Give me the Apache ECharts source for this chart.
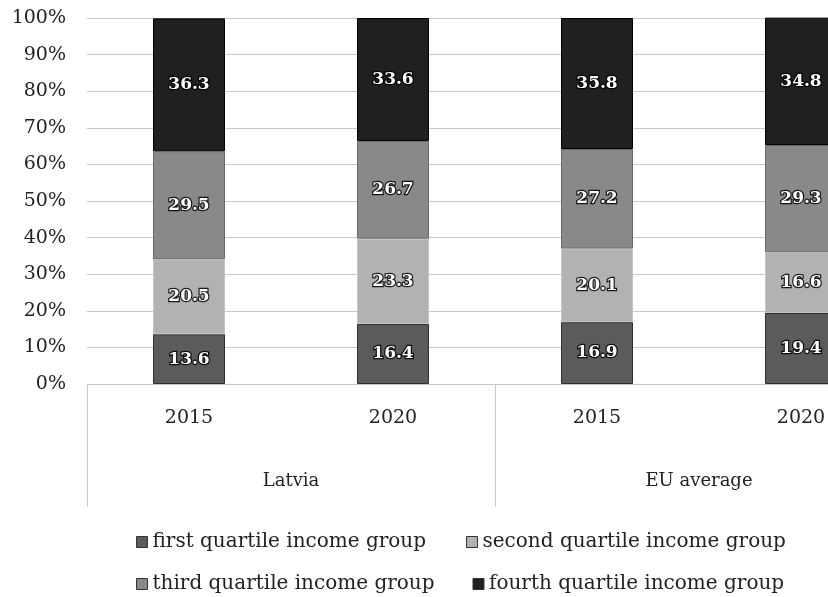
<!DOCTYPE html>
<html>
<head>
<meta charset="utf-8">
<script src="https://cdn.jsdelivr.net/npm/echarts@6/dist/echarts.min.js"></script>
<style>
  html, body { margin: 0; padding: 0; background: #ffffff; overflow: hidden; }
  /* the drawing is wider than the window, so the last bar is cut at the right edge */
  #chart { width: 910px; height: 597px; }
</style>
</head>
<body>
<div id="chart"></div>
<script>
// Income-group shares (%) by year, Latvia vs EU average
const years = ['2015', '2020', '2015', '2020'];
const regions = ['Latvia', 'EU average'];
const seriesNames = [
  'first quartile income group',
  'second quartile income group',
  'third quartile income group',
  'fourth quartile income group'
];
const firstQuartile = [13.6, 16.4, 16.9, 19.4];
const secondQuartile = [20.5, 23.3, 20.1, 16.6];
const thirdQuartile = [29.5, 26.7, 27.2, 29.3];
const fourthQuartile = [36.3, 33.6, 35.8, 34.8];
const yTicks = [0, 100, 10];

const fills = ['#5b5b5b', '#b2b2b2', '#898989', '#202020'];
const edges = ['#2e2e2e', '#c4c4c4', '#6a6a6a', '#000000'];
const values = [firstQuartile, secondQuartile, thirdQuartile, fourthQuartile];

const chart = echarts.init(document.getElementById('chart'), null, { renderer: 'canvas' });

const series = seriesNames.map((name, i) => ({
  name: name,
  type: 'bar',
  stack: 'total',
  barWidth: 72,
  xAxisIndex: 0,
  data: values[i],
  itemStyle: { color: fills[i], borderColor: edges[i], borderWidth: 1 },
  label: {
    show: true,
    position: 'inside',
    formatter: (p) => p.value.toFixed(1),
    color: '#ffffff',
    fontFamily: 'DejaVu Serif',
    fontWeight: 'bold',
    fontSize: 17,
    textBorderColor: 'rgba(0,0,0,0.85)',
    textBorderWidth: 2.5
  },
  emphasis: { disabled: true }
}));

const legendText = { color: '#222222', fontFamily: 'DejaVu Serif', fontSize: 20 };

chart.setOption({
  animation: false,
  backgroundColor: '#ffffff',
  grid: { left: 87, width: 816, top: 18, height: 366, containLabel: false, outerBoundsMode: 'none' },
  legend: [
    {
      data: [seriesNames[0], seriesNames[1]],
      left: 131, top: 527, itemWidth: 11, itemHeight: 11, itemGap: 40,
      icon: 'rect', textStyle: legendText,
      itemStyle: { borderColor: '#333', borderWidth: 1 }
    },
    {
      data: [seriesNames[2], seriesNames[3]],
      left: 131, top: 569, itemWidth: 11, itemHeight: 11, itemGap: 38,
      icon: 'rect', textStyle: legendText,
      itemStyle: { borderColor: '#333', borderWidth: 1 }
    }
  ],
  xAxis: [
    {
      type: 'category',
      data: years,
      position: 'bottom',
      axisLine: { show: true, lineStyle: { color: '#c8c8c8', width: 1 } },
      axisTick: { show: false },
      axisLabel: { color: '#222222', fontFamily: 'DejaVu Serif', fontSize: 19, margin: 25, interval: 0 }
    },
    {
      type: 'category',
      data: regions,
      position: 'bottom',
      axisLine: { show: false },
      axisTick: { show: true, length: 123, lineStyle: { color: '#c8c8c8', width: 1 } },
      axisLabel: { color: '#222222', fontFamily: 'DejaVu Serif', fontSize: 18, margin: 88, interval: 0 }
    }
  ],
  yAxis: {
    type: 'value',
    min: yTicks[0],
    max: yTicks[1],
    interval: yTicks[2],
    axisLine: { show: false },
    axisTick: { show: false },
    splitLine: { lineStyle: { color: '#c8c8c8', width: 1 } },
    axisLabel: {
      formatter: '{value}%',
      color: '#222222',
      fontFamily: 'DejaVu Serif',
      fontSize: 19,
      margin: 21
    }
  },
  series: series
});
</script>
</body>
</html>
